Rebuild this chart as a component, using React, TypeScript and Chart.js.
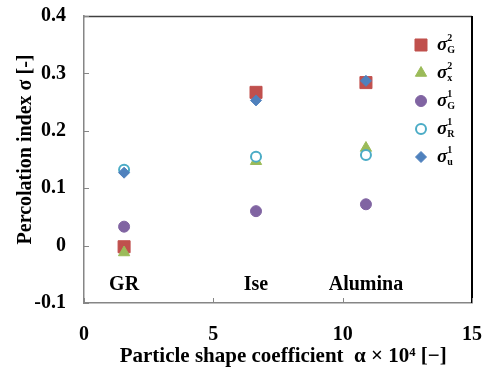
import React, { useEffect, useRef } from "react";
import { Chart, registerables } from "chart.js";

Chart.register(...registerables);

// ---- data ----
const xTickStep = 5;
const xMin = 0;
const xMax = 15;
const yMin = -0.1;
const yMax = 0.4;
const yTickStep = 0.1;
const materials = ["GR", "Ise", "Alumina"];
const shapeCoef = [1.55, 6.65, 10.9];
const sigma2G = [-0.002, 0.267, 0.284];
const sigma2X = [-0.012, 0.147, 0.17];
const sigma1G = [0.033, 0.06, 0.072];
const sigma1R = [0.132, 0.155, 0.158];
const sigma1U = [0.127, 0.253, 0.287];
const materialLabelLevel = -0.068;
const legendSup = ["2", "2", "1", "1", "1"];
const legendSub = ["G", "x", "G", "R", "u"];
const xTitle = "  Particle shape coefficient  \u03b1 \u00d7 10\u2074 [\u2212]";
const yTitle = "    Percolation index \u03c3 [-]";

const FONT = "'Liberation Serif', 'Times New Roman', serif";

const seriesDefs = [
  { data: sigma2G, style: "rect", radius: 8.5, fill: "#C0504D", stroke: "#C0504D", bw: 1, order: 5 },
  { data: sigma2X, style: "triangle", radius: 6.5, fill: "#9BBB59", stroke: "#9BBB59", bw: 1, order: 4 },
  { data: sigma1G, style: "circle", radius: 5.5, fill: "#8064A2", stroke: "#8064A2", bw: 1, order: 3 },
  { data: sigma1R, style: "circle", radius: 5, fill: "#FFFFFF", stroke: "#4BACC6", bw: 2, order: 2 },
  { data: sigma1U, style: "rectRot", radius: 5.5, fill: "#4F81BD", stroke: "#4F81BD", bw: 1, order: 1 },
];

function drawMarker(ctx: CanvasRenderingContext2D, d: any, x: number, y: number) {
  const r = d.radius;
  ctx.save();
  ctx.fillStyle = d.fill;
  ctx.strokeStyle = d.stroke;
  ctx.lineWidth = d.bw;
  ctx.beginPath();
  if (d.style === "rect") {
    const s = r / Math.SQRT2;
    ctx.rect(x - s, y - s, 2 * s, 2 * s);
  } else if (d.style === "triangle") {
    ctx.moveTo(x, y - r);
    ctx.lineTo(x + (r * Math.sqrt(3)) / 2, y + r / 2);
    ctx.lineTo(x - (r * Math.sqrt(3)) / 2, y + r / 2);
    ctx.closePath();
  } else if (d.style === "rectRot") {
    ctx.moveTo(x, y - r);
    ctx.lineTo(x + r, y);
    ctx.lineTo(x, y + r);
    ctx.lineTo(x - r, y);
    ctx.closePath();
  } else {
    ctx.arc(x, y, r, 0, Math.PI * 2);
  }
  ctx.fill();
  ctx.stroke();
  ctx.restore();
}

const decorPlugin = {
  id: "decor",
  afterDraw(chart: any) {
    const ctx: CanvasRenderingContext2D = chart.ctx;
    const { left, right, top, bottom } = chart.chartArea;
    const xs = chart.scales.x;
    const ys = chart.scales.y;
    ctx.save();
    // top and right frame
    ctx.lineWidth = 1.5;
    ctx.strokeStyle = "#404040";
    ctx.beginPath();
    ctx.moveTo(left, top + 0.5);
    ctx.lineTo(right, top + 0.5);
    ctx.stroke();
    ctx.strokeStyle = "#000000";
    ctx.lineWidth = 2;
    ctx.beginPath();
    ctx.moveTo(right, top);
    ctx.lineTo(right, bottom);
    ctx.stroke();
    // inward ticks
    ctx.strokeStyle = "#868686";
    ctx.lineWidth = 1;
    ys.ticks.forEach((t: any) => {
      const py = Math.round(ys.getPixelForValue(t.value)) + 0.5;
      ctx.beginPath();
      ctx.moveTo(left, py);
      ctx.lineTo(left + 5, py);
      ctx.stroke();
    });
    xs.ticks.forEach((t: any) => {
      const px = Math.round(xs.getPixelForValue(t.value)) + 0.5;
      ctx.beginPath();
      ctx.moveTo(px, bottom);
      ctx.lineTo(px, bottom - 5);
      ctx.stroke();
    });
    // material labels
    ctx.fillStyle = "#000";
    ctx.font = `bold 20px ${FONT}`;
    ctx.textAlign = "center";
    ctx.textBaseline = "middle";
    materials.forEach((m, i) => {
      ctx.fillText(m, xs.getPixelForValue(shapeCoef[i]), ys.getPixelForValue(materialLabelLevel));
    });
    // legend
    seriesDefs.forEach((d, i) => {
      const ly = top + 29 + i * 28;
      const mx = right - 51;
      drawMarker(ctx, d, mx, ly);
      const tx = right - 35;
      ctx.fillStyle = "#000";
      ctx.textAlign = "left";
      ctx.textBaseline = "alphabetic";
      ctx.font = `italic bold 19px ${FONT}`;
      ctx.fillText("\u03c3", tx, ly + 5);
      const w = ctx.measureText("\u03c3").width;
      ctx.font = `bold 10px ${FONT}`;
      ctx.fillText(legendSup[i], tx + w, ly - 4);
      ctx.fillText(legendSub[i], tx + w, ly + 8);
    });
    ctx.restore();
  },
};

export default function App() {
  const ref = useRef<HTMLCanvasElement | null>(null);
  useEffect(() => {
    if (!ref.current) return;
    const datasets = seriesDefs.map((d, k) => ({
      label: `s${k}`,
      data: shapeCoef.map((x, i) => ({ x, y: d.data[i] })),
      pointStyle: d.style,
      pointRadius: d.radius,
      pointHoverRadius: d.radius,
      backgroundColor: d.fill,
      borderColor: d.stroke,
      pointBorderWidth: d.bw,
      borderWidth: d.bw,
      order: d.order,
      showLine: false,
    }));
    const chart = new Chart(ref.current, {
      type: "scatter",
      data: { datasets } as any,
      plugins: [decorPlugin as any],
      options: {
        responsive: false,
        animation: false,
        layout: { padding: 0 },
        plugins: { legend: { display: false }, tooltip: { enabled: false } },
        scales: {
          x: {
            type: "linear",
            min: xMin,
            max: xMax,
            ticks: {
              stepSize: xTickStep,
              padding: 12,
              color: "#000",
              font: { family: FONT, size: 20, weight: "bold" },
            },
            grid: { display: false },
            border: { color: "#868686", width: 1.5 },
            title: {
              display: true,
              text: xTitle,
              color: "#000",
              font: { family: FONT, size: 21, weight: "bold" },
              padding: { top: 0, bottom: 0 },
            },
            afterFit(s: any) {
              s.height = 66;
              s.paddingLeft = 0;
              s.paddingRight = 14;
            },
          },
          y: {
            type: "linear",
            min: yMin,
            max: yMax,
            ticks: {
              stepSize: yTickStep,
              padding: 10,
              color: "#000",
              font: { family: FONT, size: 20, weight: "bold" },
              callback: (v: any) => String(Math.round(Number(v) * 10) / 10),
            },
            grid: { display: false },
            border: { color: "#868686", width: 1.5 },
            title: {
              display: true,
              text: yTitle,
              color: "#000",
              font: { family: FONT, size: 20, weight: "bold" },
              padding: { top: 14, bottom: 0 },
            },
            afterFit(s: any) {
              s.width = 84;
              s.paddingTop = 16;
              s.paddingBottom = 0;
            },
          },
        },
      } as any,
    });
    return () => chart.destroy();
  }, []);
  return (
    <div style={{ position: "fixed", left: 0, top: 0, width: 486, height: 369, background: "#fff" }}>
      <canvas ref={ref} width={486} height={369} />
    </div>
  );
}
